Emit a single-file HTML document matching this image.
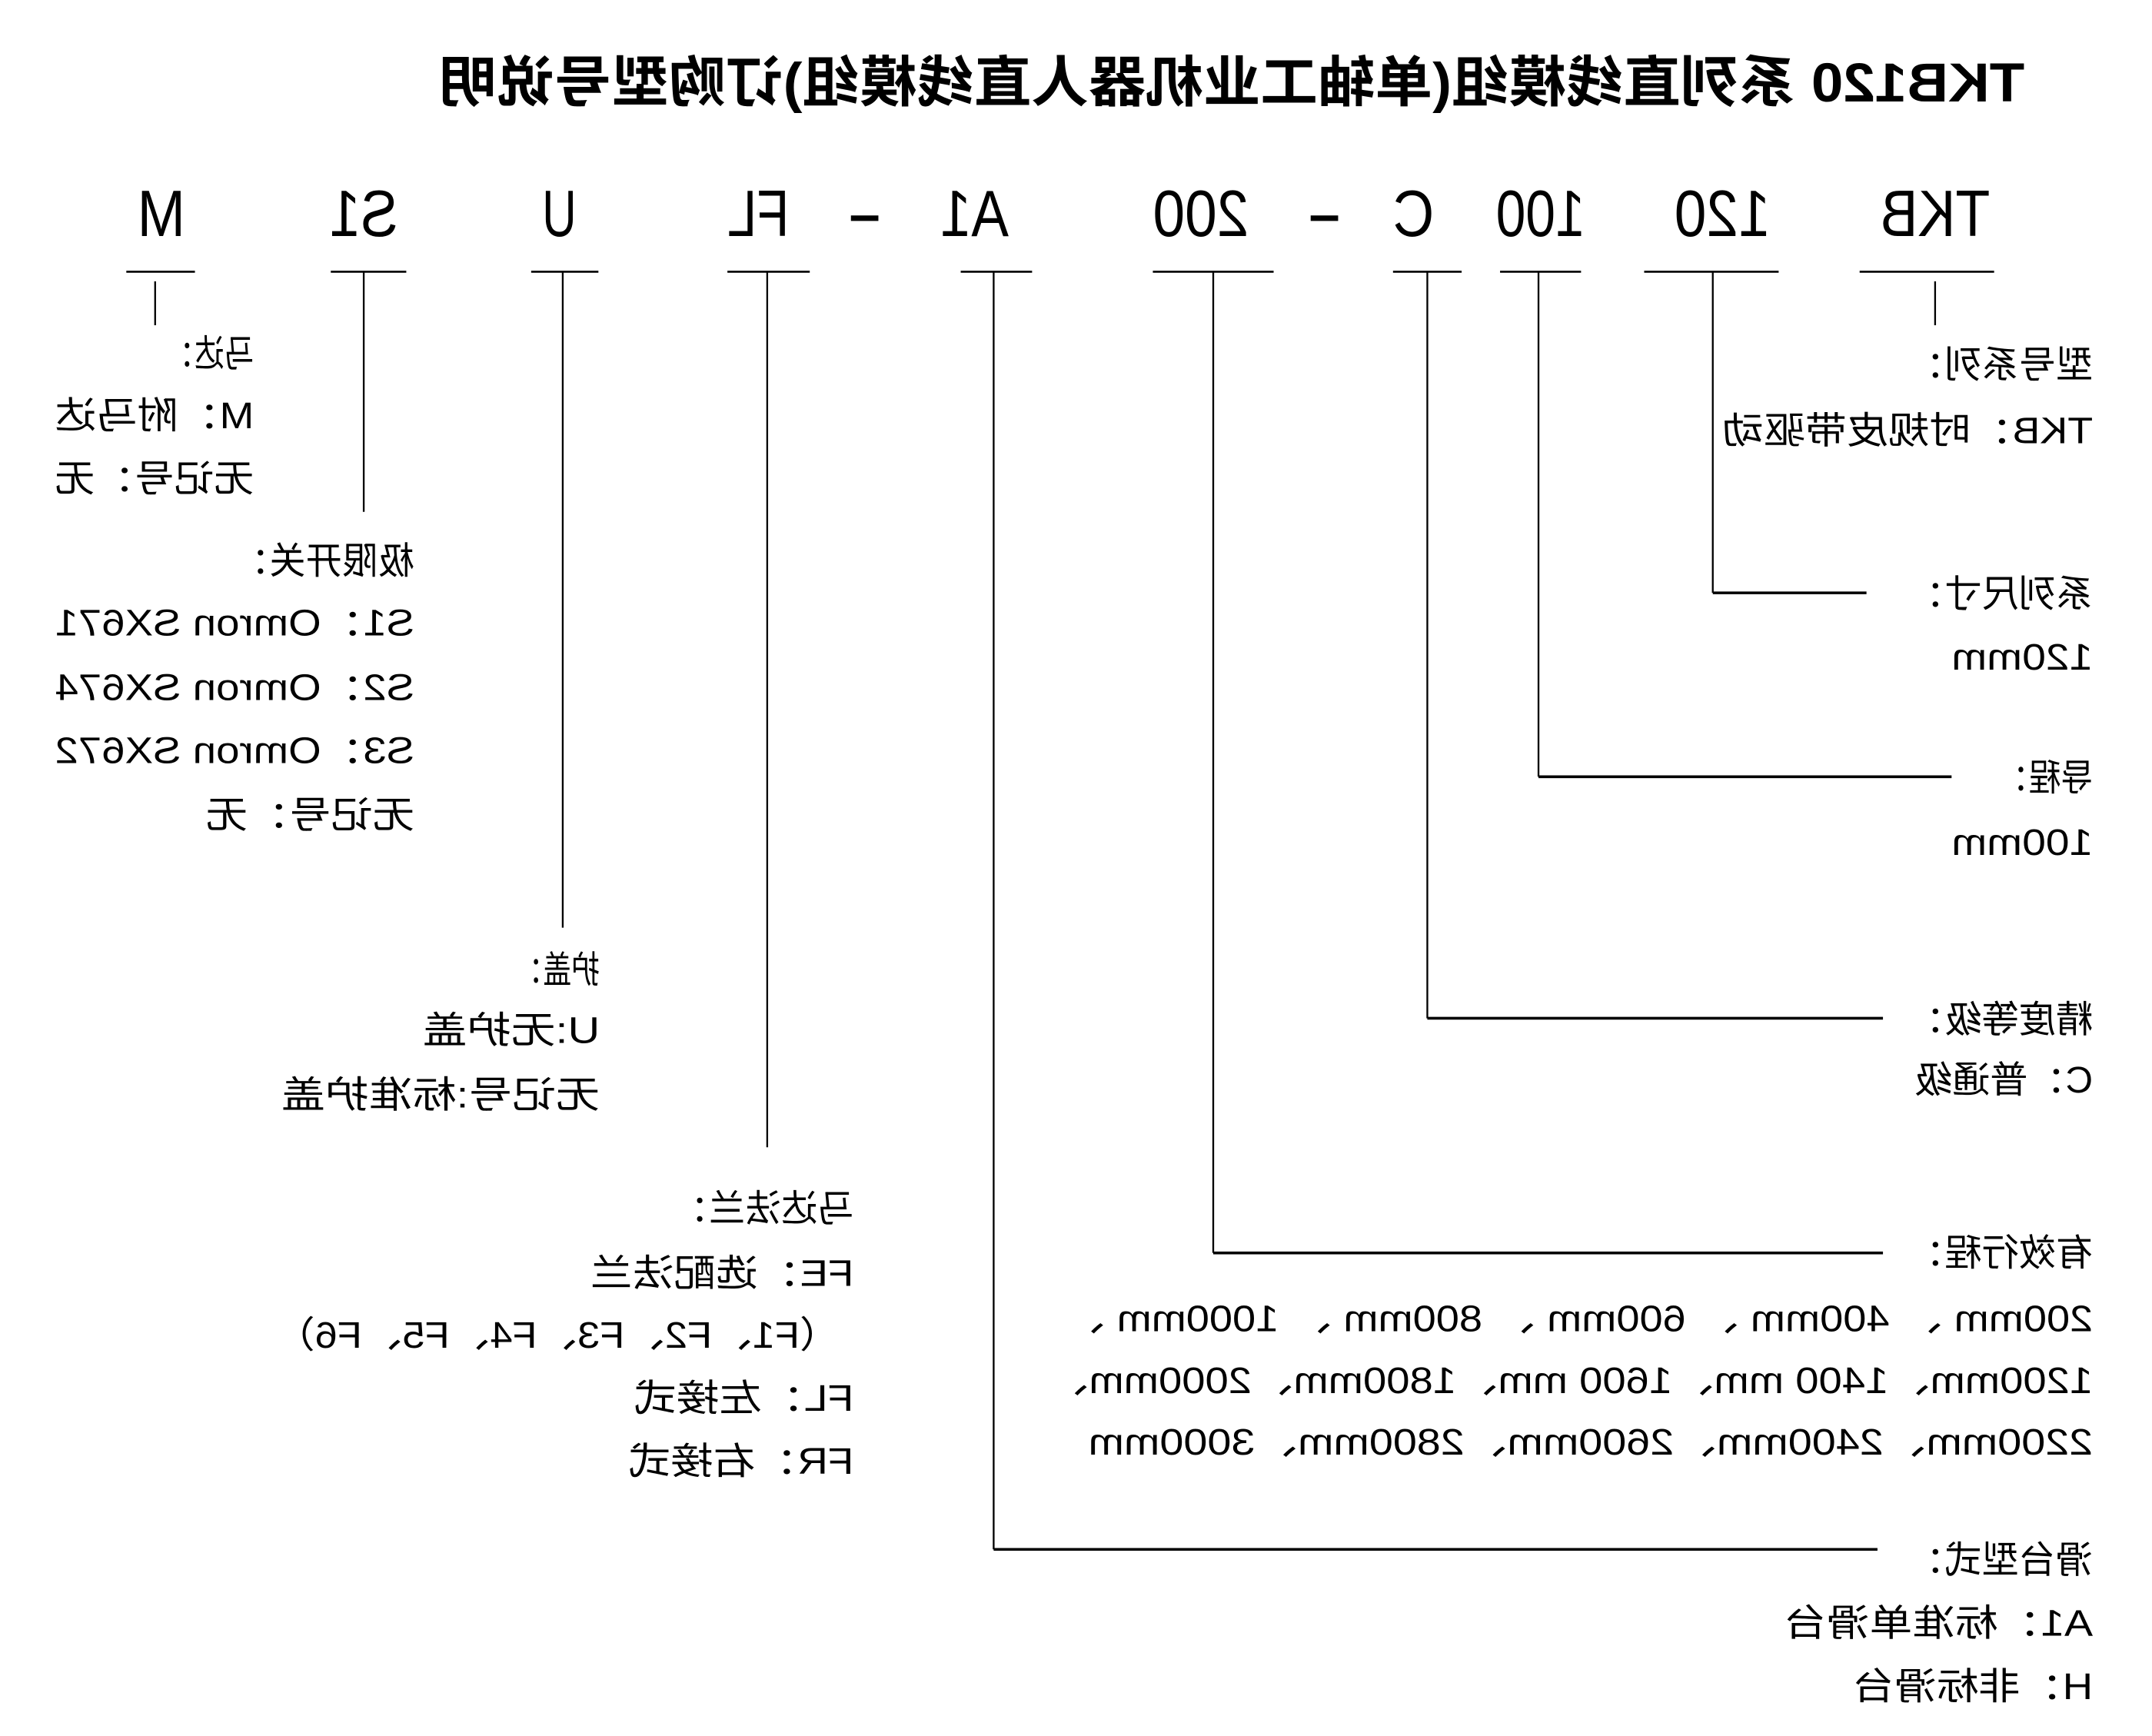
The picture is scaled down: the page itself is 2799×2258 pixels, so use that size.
<!DOCTYPE html>
<html><head><meta charset="utf-8"><style>
html,body{margin:0;padding:0;background:#fff;}
svg{display:block;}
text{font-family:"Liberation Sans","Noto Sans CJK SC",sans-serif;fill:#000;}
</style></head><body>
<svg width="2799" height="2258" viewBox="0 0 1568 1265" xmlns="http://www.w3.org/2000/svg">
<rect width="1568" height="1265" fill="#fff"/>
<g stroke="#000" fill="none">
 <g stroke-width="1.5">
  <line x1="1355" y1="198" x2="1453" y2="198"/>
  <line x1="1198" y1="198" x2="1296" y2="198"/>
  <line x1="1093" y1="198" x2="1152" y2="198"/>
  <line x1="1015" y1="198" x2="1065" y2="198"/>
  <line x1="840" y1="198" x2="928" y2="198"/>
  <line x1="700" y1="198" x2="752" y2="198"/>
  <line x1="530" y1="198" x2="590" y2="198"/>
  <line x1="387" y1="198" x2="436" y2="198"/>
  <line x1="241" y1="198" x2="296" y2="198"/>
  <line x1="92" y1="198" x2="142" y2="198"/>
 </g>
 <g stroke-width="1.3">
  <line x1="1410" y1="205" x2="1410" y2="237"/>
  <line x1="113" y1="205" x2="113" y2="237"/>
  <line x1="1248" y1="198" x2="1248" y2="432"/>
  <line x1="1121" y1="198" x2="1121" y2="566"/>
  <line x1="1040" y1="198" x2="1040" y2="742"/>
  <line x1="884" y1="198" x2="884" y2="913"/>
  <line x1="724" y1="198" x2="724" y2="1129"/>
  <line x1="559" y1="198" x2="559" y2="836"/>
  <line x1="410" y1="198" x2="410" y2="676"/>
  <line x1="265" y1="198" x2="265" y2="373"/>
 </g>
 <g stroke-width="2">
  <line x1="1248" y1="432" x2="1360" y2="432"/>
  <line x1="1121" y1="566" x2="1422" y2="566"/>
  <line x1="1040" y1="742" x2="1372" y2="742"/>
  <line x1="884" y1="913" x2="1372" y2="913"/>
  <line x1="724" y1="1129" x2="1368" y2="1129"/>
 </g>
</g>
<rect x="955" y="157" width="20" height="4" fill="#000"/>
<rect x="620" y="157" width="20" height="4" fill="#000"/>

<g transform="translate(1560.2,0) scale(-1,1)">
 <text x="85" y="74" font-size="40" font-weight="bold" textLength="1155" lengthAdjust="spacingAndGlyphs">TKB120 系列直线模组(单轴工业机器人直线模组)订购型号说明</text>
 <g font-size="48">
  <text x="110.2" y="172" textLength="80" lengthAdjust="spacingAndGlyphs">TKB</text>
  <text x="270.2" y="172" textLength="70" lengthAdjust="spacingAndGlyphs">120</text>
  <text x="405.2" y="172" textLength="65" lengthAdjust="spacingAndGlyphs">100</text>
  <text x="515.2" y="172" textLength="30" lengthAdjust="spacingAndGlyphs">C</text>
  <text x="650.2" y="172" textLength="70" lengthAdjust="spacingAndGlyphs">200</text>
  <text x="825.2" y="172" textLength="50" lengthAdjust="spacingAndGlyphs">A1</text>
  <text x="985.2" y="172" textLength="45" lengthAdjust="spacingAndGlyphs">FL</text>
  <text x="1140.2" y="172" textLength="25" lengthAdjust="spacingAndGlyphs">U</text>
  <text x="1270.2" y="172" textLength="50" lengthAdjust="spacingAndGlyphs">S1</text>
  <text x="1425.2" y="172" textLength="35" lengthAdjust="spacingAndGlyphs">M</text>
 </g>
 <g font-size="27">
  <text x="35.2" y="275" textLength="135" lengthAdjust="spacingAndGlyphs">型号系列：</text>
  <text x="35.2" y="323" textLength="270" lengthAdjust="spacingAndGlyphs">TKB：时规皮带驱动</text>
  <text x="35.2" y="442" textLength="135" lengthAdjust="spacingAndGlyphs">系列尺寸：</text>
  <text x="35.2" y="488" textLength="103" lengthAdjust="spacingAndGlyphs">120mm</text>
  <text x="35.2" y="576" textLength="70" lengthAdjust="spacingAndGlyphs">导程：</text>
  <text x="35.2" y="623" textLength="103" lengthAdjust="spacingAndGlyphs">100mm</text>
  <text x="35.2" y="752" textLength="135" lengthAdjust="spacingAndGlyphs">精度等级：</text>
  <text x="35.2" y="796" textLength="130" lengthAdjust="spacingAndGlyphs">C：普通级</text>
  <text x="35.2" y="922" textLength="135" lengthAdjust="spacingAndGlyphs">有效行程：</text>
  <text x="35.2" y="970" textLength="750" lengthAdjust="spacingAndGlyphs">200mm 、 400mm 、 600mm 、 800mm 、 1000mm 、</text>
  <text x="35.2" y="1015" textLength="762" lengthAdjust="spacingAndGlyphs">1200mm、1400 mm、1600 mm、1800mm、2000mm、</text>
  <text x="35.2" y="1060" textLength="732" lengthAdjust="spacingAndGlyphs">2200mm、2400mm、2600mm、2800mm、3000mm</text>
  <text x="35.2" y="1146" textLength="135" lengthAdjust="spacingAndGlyphs">滑台型式：</text>
  <text x="35.2" y="1192" textLength="225" lengthAdjust="spacingAndGlyphs">A1：标准单滑台</text>
  <text x="35.2" y="1238" textLength="175" lengthAdjust="spacingAndGlyphs">H：非标滑台</text>

  <text x="1375.2" y="267" textLength="65" lengthAdjust="spacingAndGlyphs">马达：</text>
  <text x="1375.2" y="312" textLength="145" lengthAdjust="spacingAndGlyphs">M：附马达</text>
  <text x="1375.2" y="358" textLength="145" lengthAdjust="spacingAndGlyphs">无记号：无</text>
  <text x="1258.2" y="418" textLength="132" lengthAdjust="spacingAndGlyphs">极限开关：</text>
  <text x="1258.2" y="463" textLength="262" lengthAdjust="spacingAndGlyphs">S1：Omron SX671</text>
  <text x="1258.2" y="510" textLength="262" lengthAdjust="spacingAndGlyphs">S2：Omron SX674</text>
  <text x="1258.2" y="556" textLength="262" lengthAdjust="spacingAndGlyphs">S3：Omron SX672</text>
  <text x="1258.2" y="603" textLength="152" lengthAdjust="spacingAndGlyphs">无记号：无</text>
  <text x="1123.2" y="716" textLength="62" lengthAdjust="spacingAndGlyphs">护盖：</text>
  <text x="1123.2" y="760" textLength="129" lengthAdjust="spacingAndGlyphs">U:无护盖</text>
  <text x="1123.2" y="807" textLength="232" lengthAdjust="spacingAndGlyphs">无记号:标准护盖</text>
  <text x="938.2" y="890" textLength="132" lengthAdjust="spacingAndGlyphs">马达法兰：</text>
  <text x="938.2" y="937" textLength="192" lengthAdjust="spacingAndGlyphs">FE：选配法兰</text>
  <text x="948.2" y="982" textLength="412" lengthAdjust="spacingAndGlyphs">（F1、F2、F3、F4、F5、F6）</text>
  <text x="938.2" y="1028" textLength="160" lengthAdjust="spacingAndGlyphs">FL：左接式</text>
  <text x="938.2" y="1074" textLength="164" lengthAdjust="spacingAndGlyphs">FR：右接式</text>
 </g>
</g>
</svg>
</body></html>
